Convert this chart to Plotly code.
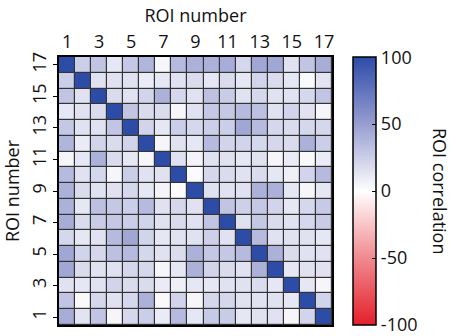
import plotly.graph_objects as go

roi = list(range(1, 18))
tick_vals = [1, 3, 5, 7, 9, 11, 13, 15, 17]
tick_text = [str(v) for v in tick_vals]
cbar_vals = [-100, -50, 0, 50, 100]
cbar_pos = [-99.4, -50, 0, 50, 99.4]

# rows listed top to bottom (row 0 = top row, labelled 17); columns left to right (1..17)
corr_rows = [
    [100, 25, 30, 12, 28, 38, 5, 35, 40, 40, 42, 20, 45, 45, 15, 30, 42],
    [25, 100, 15, 15, 15, 10, 12, 15, 18, 12, 18, 12, 22, 18, 12, 3, 14],
    [30, 15, 100, 18, 15, 22, 40, 20, 15, 32, 26, 15, 20, 15, 15, 20, 30],
    [12, 15, 18, 100, 30, 18, 18, 5, 15, 28, 28, 35, 32, 15, 22, 15, 5],
    [28, 15, 15, 30, 100, 22, 12, 25, 20, 25, 25, 45, 35, 20, 18, 20, 20],
    [38, 10, 22, 18, 22, 100, 5, 15, 12, 35, 22, 22, 20, 20, 18, 40, 25],
    [5, 12, 40, 18, 12, 5, 100, 15, 6, 15, 15, 12, 15, 5, 10, 3, 10],
    [35, 15, 20, 5, 25, 15, 15, 100, 2, 20, 18, 15, 18, 12, 8, 22, 35],
    [40, 18, 15, 15, 20, 12, 6, 2, 100, 15, 15, 15, 40, 40, 12, 5, 12],
    [40, 12, 32, 28, 25, 35, 15, 20, 15, 100, 30, 24, 28, 22, 12, 20, 27],
    [42, 18, 26, 28, 25, 22, 15, 18, 15, 30, 100, 15, 28, 18, 15, 20, 26],
    [20, 12, 15, 35, 45, 22, 12, 15, 15, 24, 15, 100, 35, 15, 15, 15, 12],
    [45, 22, 20, 32, 35, 20, 15, 18, 40, 28, 28, 35, 100, 40, 18, 15, 15],
    [45, 18, 15, 15, 20, 20, 5, 12, 40, 22, 18, 15, 40, 100, 12, 15, 15],
    [15, 12, 15, 22, 18, 18, 10, 8, 12, 12, 15, 15, 18, 12, 100, 12, 5],
    [30, 3, 20, 15, 20, 40, 3, 22, 5, 20, 20, 15, 15, 15, 12, 100, 22],
    [42, 14, 30, 5, 20, 25, 10, 35, 12, 27, 26, 12, 15, 15, 5, 22, 100],
]
row_labels = roi[::-1]

FONT = "Open Sans, Noto Sans, sans-serif"
FS = 18

colorscale = [
    [0.0, "#E4202A"],
    [0.25, "#F08A8F"],
    [0.5, "#FFFFFF"],
    [0.75, "#979DD0"],
    [1.0, "#2C4CA8"],
]

PL, PR, PT, PB = 59, 332, 57, 325
pw, ph = PR - PL, PB - PT

fig = go.Figure(go.Heatmap(
    z=corr_rows, x=roi, y=row_labels,
    zmin=-100, zmax=100, colorscale=colorscale,
    xgap=1.2, ygap=1.2,
    colorbar=dict(
        x=(353 - PL) / pw, xanchor="left", xref="paper",
        y=0, yanchor="bottom", yref="paper",
        len=1.0, lenmode="fraction", thickness=23, thicknessmode="pixels",
        outlinecolor="black", outlinewidth=1.5,
        tickvals=cbar_pos, ticktext=[str(v) for v in cbar_vals],
        ticks="inside", ticklen=4, tickcolor="black",
        tickfont=dict(family=FONT, size=FS, color="#111"),
        ypad=0, xpad=0,
    ),
))

fig.update_layout(
    width=454, height=336,
    margin=dict(l=PL, r=454 - PR, t=PT, b=336 - PB, autoexpand=False),
    paper_bgcolor="white", plot_bgcolor="#333333",
    font=dict(family=FONT, size=FS, color="#111"),
    xaxis=dict(
        side="top", tickvals=tick_vals, ticktext=tick_text,
        range=[0.5, 17.5], showgrid=False, zeroline=False,
        showline=True, linecolor="black", linewidth=1.5, mirror=True,
        ticks="", tickfont=dict(size=FS), automargin=False,
        title=dict(text="ROI number", font=dict(size=FS), standoff=2),
    ),
    yaxis=dict(
        tickvals=tick_vals, ticktext=tick_text, tickangle=-90,
        range=[0.5, 17.5], showgrid=False, zeroline=False,
        showline=True, linecolor="black", linewidth=1.5, mirror=True,
        ticks="outside", ticklen=4, tickcolor="black",
        tickfont=dict(size=FS), automargin=False,
        title=dict(text="ROI number", font=dict(size=FS), standoff=4),
    ),
    annotations=[dict(
        text="ROI correlation", textangle=90,
        xref="paper", yref="paper", x=(440 - PL) / pw, y=0.5,
        xanchor="center", yanchor="middle", showarrow=False,
        font=dict(family=FONT, size=FS, color="#111"),
    )],
)

fig.write_html(
    "out.html", config={"displayModeBar": False},
    post_script=("document.body.style.margin='0';"
                 "document.body.style.overflow='hidden';"
                 "document.documentElement.style.overflow='hidden';"),
)
